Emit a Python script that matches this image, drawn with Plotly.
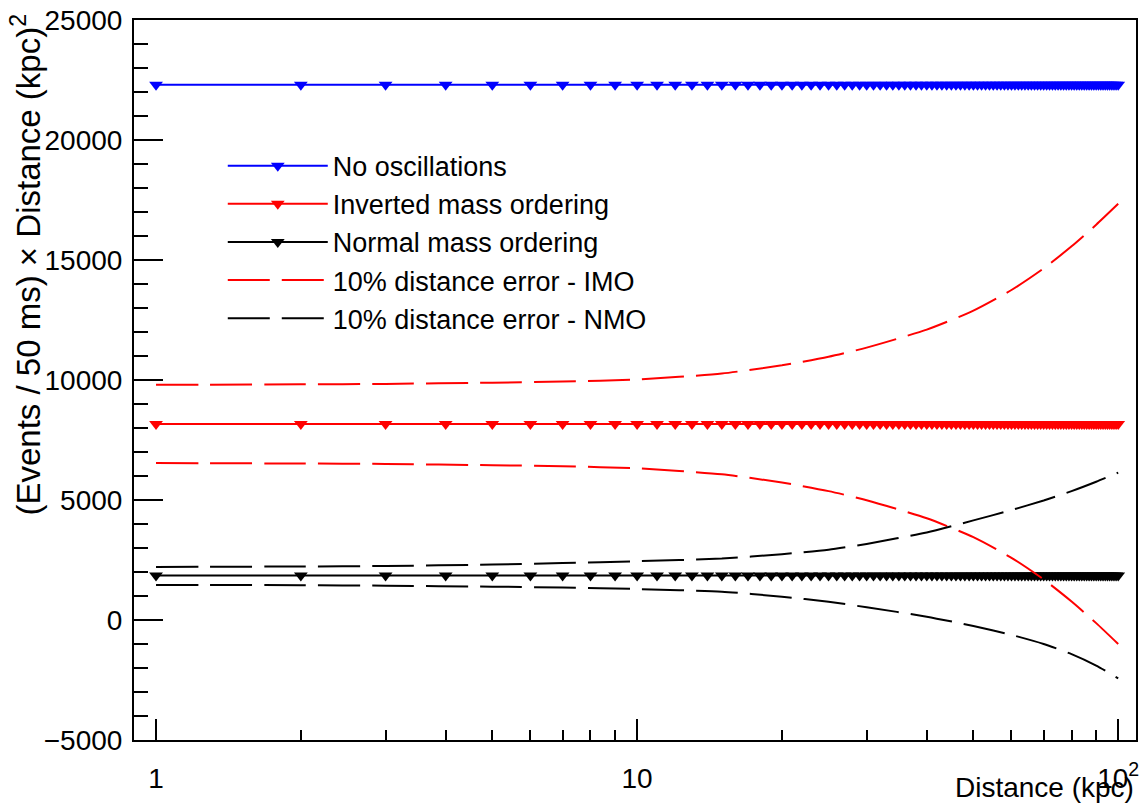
import plotly.graph_objects as go

# ---------------- data ----------------
distance = list(range(1, 101))            # kpc, one marker per integer distance
no_osc = [22300] * 100                    # flat series
imo = [8170] * 100
nmo = [1850] * 100

d_err = [1, 2, 3, 5, 7, 10, 15, 20, 25, 30, 40, 50, 60, 70, 80, 90, 100]
imo_up = [9800, 9820, 9838, 9890, 9935, 10020, 10270, 10610, 10970, 11350,
          12100, 12890, 13750, 14650, 15570, 16470, 17340]
imo_lo = [6540, 6520, 6502, 6450, 6405, 6320, 6070, 5730, 5370, 4990,
          4240, 3450, 2590, 1690, 770, -130, -1000]
nmo_up = [2210, 2230, 2252, 2310, 2370, 2450, 2560, 2740, 2930, 3170,
          3650, 4150, 4580, 4980, 5370, 5760, 6140]
nmo_lo = [1460, 1450, 1430, 1390, 1350, 1290, 1180, 970, 760, 530,
          140, -250, -620, -1000, -1420, -1900, -2430]

y_ticks = [-5000, 0, 5000, 10000, 15000, 20000, 25000]
y_ticktext = ["\u22125000", "0", "5000", "10000", "15000", "20000", "25000"]
x_ticks = [1, 10, 100]
x_ticktext = ["1", "10", "10<sup>2</sup>"]
x_minor = [2, 3, 4, 5, 6, 7, 8, 9, 20, 30, 40, 50, 60, 70, 80, 90]

FONT = "Liberation Sans, Arial, Helvetica, sans-serif"
DASH = "42px,12px"

fig = go.Figure()

def solid(y, color, name):
    fig.add_trace(go.Scatter(
        x=distance, y=y, mode="lines+markers", name=name,
        line=dict(color=color, width=2),
        marker=dict(symbol="triangle-down", size=12, color=color,
                    line=dict(width=0))))

solid(no_osc, "rgb(0,0,255)", "No oscillations")
solid(imo, "rgb(255,0,0)", "Inverted mass ordering")
solid(nmo, "black", "Normal mass ordering")

def dashed(y, color, name, show):
    fig.add_trace(go.Scatter(
        x=d_err, y=y, mode="lines", name=name, legendgroup=name,
        showlegend=show,
        line=dict(color=color, width=2, dash=DASH, shape="spline",
                  smoothing=0.6)))

dashed(imo_up, "rgb(255,0,0)", "10% distance error - IMO", True)
dashed(imo_lo, "rgb(255,0,0)", "10% distance error - IMO", False)
dashed(nmo_up, "black", "10% distance error - NMO", True)
dashed(nmo_lo, "black", "10% distance error - NMO", False)

fig.update_layout(
    width=1141, height=803,
    margin=dict(l=134, r=3, t=20, b=63),
    paper_bgcolor="white", plot_bgcolor="white",
    font=dict(family=FONT, size=28, color="black"),
    showlegend=True,
    legend=dict(x=0.0886, y=0.831, xanchor="left", yanchor="top",
                bgcolor="rgba(0,0,0,0)", borderwidth=0,
                font=dict(family=FONT, size=27, color="black"),
                itemwidth=100, tracegroupgap=0, traceorder="normal"),
    xaxis=dict(
        type="log", range=[-0.0458, 2.037],
        tickmode="array", tickvals=x_ticks, ticktext=x_ticktext,
        ticks="inside", ticklen=21, tickwidth=2, tickcolor="black",
        showline=True, linecolor="black", linewidth=2, mirror=True,
        showgrid=False, zeroline=False,
        tickfont=dict(family=FONT, size=28, color="black"),
        ticklabelstandoff=12,
        minor=dict(tickmode="array", tickvals=x_minor, ticks="inside",
                   ticklen=10, tickwidth=2, tickcolor="black",
                   showgrid=False),
    ),
    yaxis=dict(
        range=[-5000, 25000],
        tickmode="array", tickvals=y_ticks, ticktext=y_ticktext,
        ticks="inside", ticklen=29, tickwidth=2, tickcolor="black",
        showline=True, linecolor="black", linewidth=2, mirror=True,
        showgrid=False, zeroline=False,
        tickfont=dict(family=FONT, size=28, color="black"),
        ticklabelstandoff=4,
        minor=dict(dtick=1000, tick0=0, ticks="inside", ticklen=14,
                   tickwidth=2, tickcolor="black", showgrid=False),
    ),
    annotations=[
        dict(text="(Events / 50 ms) × Distance (kpc)<sup>2</sup>",
             xref="paper", yref="paper", x=-0.1076, y=1.012,
             xanchor="center", yanchor="top", textangle=-90,
             showarrow=False, font=dict(family=FONT, size=33, color="black")),
        dict(text="Distance (kpc)", xref="paper", yref="paper",
             x=1.0, y=-0.0653, xanchor="right", yanchor="middle",
             showarrow=False, font=dict(family=FONT, size=28, color="black")),
    ],
)

fig.write_html("out.html")
